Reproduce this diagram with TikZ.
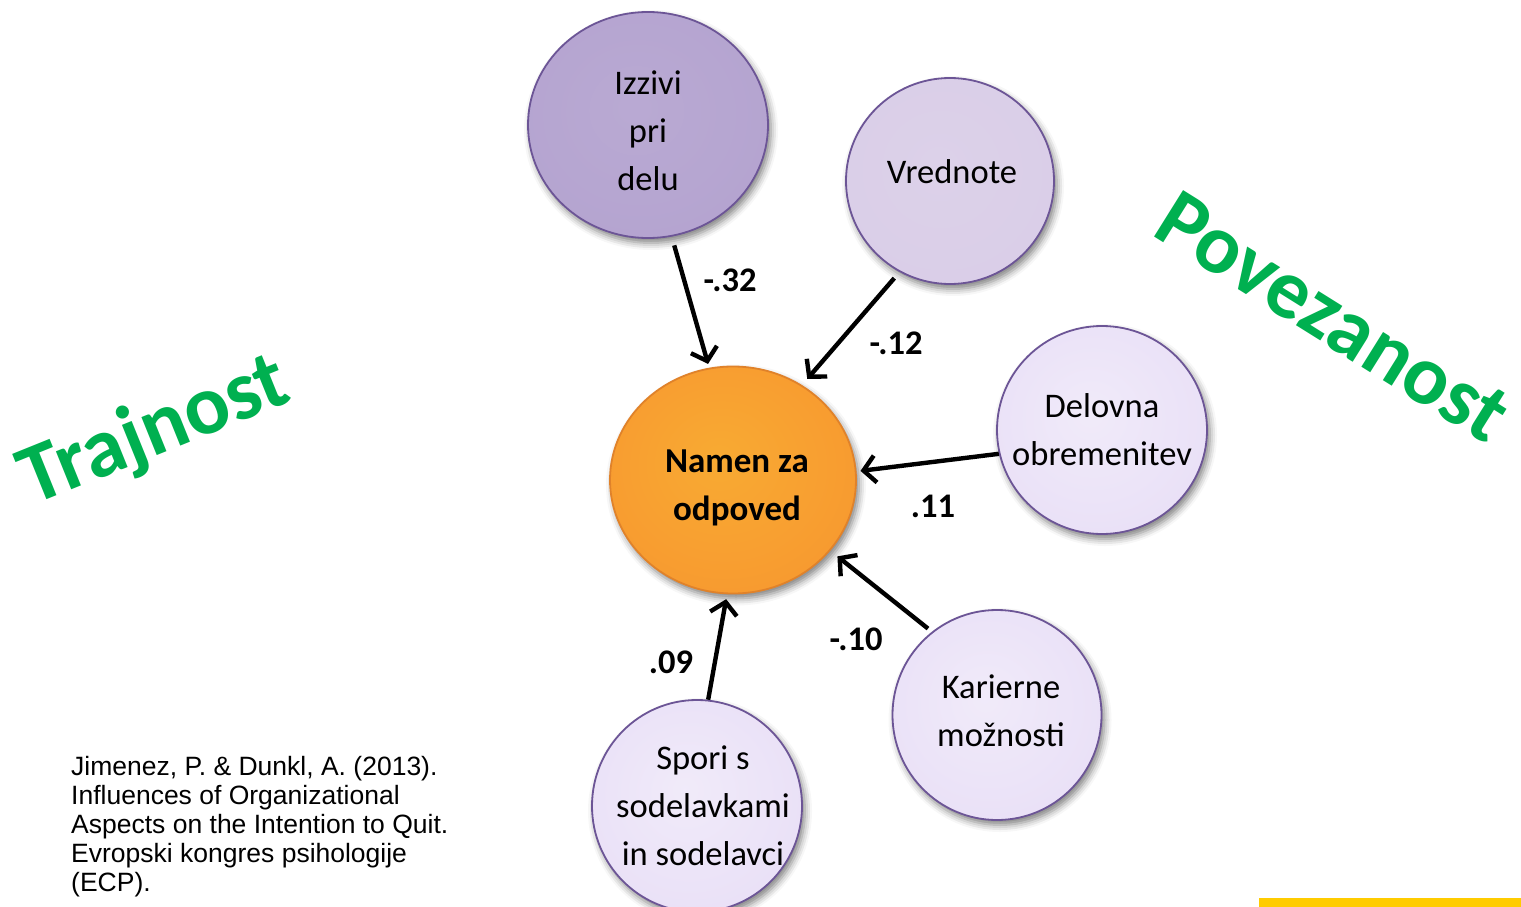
\documentclass[tikz,border=0pt]{standalone}
\usepackage{fontspec}
\setmainfont{Carlito}
\newfontfamily\arialf{Liberation Sans}
\usetikzlibrary{shapes.geometric,arrows.meta,shadows.blur}
\definecolor{izc}{HTML}{B3A2CF}
\definecolor{vrc}{HTML}{D9CDE7}
\definecolor{ltc}{HTML}{E7DDF6}
\definecolor{orc}{HTML}{F7962F}
\definecolor{bubline}{HTML}{6C5596}
\definecolor{orline}{HTML}{E0822A}
\definecolor{grn}{HTML}{00B050}
\definecolor{yel}{HTML}{FFCC00}
\pgfdeclareradialshading{izsh}{\pgfpoint{-3bp}{4bp}}{color(0bp)=(izc!92!white); color(38bp)=(izc); color(47bp)=(izc!88!black); color(52bp)=(izc!72!black)}
\pgfdeclareradialshading{vrsh}{\pgfpoint{-3bp}{4bp}}{color(0bp)=(vrc!92!white); color(38bp)=(vrc); color(47bp)=(vrc!90!black); color(52bp)=(vrc!75!black)}
\pgfdeclareradialshading{ltsh}{\pgfpoint{-3bp}{4bp}}{color(0bp)=(ltc!60!white); color(38bp)=(ltc); color(47bp)=(ltc!92!black); color(52bp)=(ltc!78!black)}
\pgfdeclareradialshading{orsh}{\pgfpoint{-3bp}{5bp}}{color(0bp)=(orc!85!yellow!95!white); color(36bp)=(orc); color(47bp)=(orc!90!black); color(52bp)=(orc!80!black)}
\begin{document}
\begin{tikzpicture}[x=1pt,y=-1pt,
  bub/.style={ellipse, draw=bubline, line width=1.8pt, inner sep=0pt,
    blur shadow={shadow xshift=3pt, shadow yshift=-5pt, shadow blur radius=7pt, shadow opacity=50}},
  btext/.style={align=center, font=\fontsize{34.5}{48}\selectfont, inner sep=0pt},
  wlabel/.style={font=\bfseries\fontsize{34.5}{40}\selectfont, inner sep=0pt},
  arr/.style={line width=4.4pt, -{Straight Barb[length=12pt,width=27pt]}},
  bigword/.style={text=grn, font=\bfseries\fontsize{84.5}{90}\selectfont, inner sep=0pt}
]
\useasboundingbox (0,0) rectangle (1521,907);

% bubbles
\node[bub, shading=izsh, minimum width=240pt, minimum height=226pt] (iz) at (648,125) {};
\node[bub, shading=vrsh, minimum width=208pt, minimum height=206pt] (vr) at (950,181) {};
\node[bub, shading=ltsh, minimum width=210pt, minimum height=208pt] (de) at (1102,430) {};
\node[bub, shading=ltsh, minimum width=209pt, minimum height=210pt] (ka) at (997,715) {};
\node[bub, shading=ltsh, minimum width=210pt, minimum height=212pt] (sp) at (697,806) {};
\node[bub, shading=orsh, draw=orline, minimum width=246pt, minimum height=227pt] (nm) at (733,480) {};

% texts in bubbles
\node[btext, yshift=-6pt] (tiz) at (iz.center) {Izzivi\\pri\\delu};
\node[btext, yshift=9pt, xshift=2pt] (tvr) at (vr.center) {Vrednote};
\node[btext] (tde) at (de.center) {Delovna\\obremenitev};
\node[btext, yshift=4pt, xshift=4pt] (tka) at (ka.center) {Karierne\\možnosti};
\node[btext, xshift=6pt] (tsp) at (sp.center) {Spori s\\sodelavkami\\in sodelavci};
\node[btext, font=\bfseries\fontsize{35}{48}\selectfont, yshift=-8pt, xshift=4pt] (tnm) at (nm.center) {Namen za\\odpoved};

% arrows
\draw[arr, shorten <=9pt, shorten >=4pt] (iz.-78) -- (nm.102);
\draw[arr, shorten <=8pt, shorten >=8pt] (vr.-119) -- (nm.54);
\draw[arr, shorten <=0pt, shorten >=4pt] (de.-167) -- (nm.4.5);
\draw[arr, shorten <=5pt, shorten >=9pt] (ka.128) -- (nm.-36);
\draw[arr, shorten <=0pt, shorten >=5pt] (sp.84) -- (nm.-93);

% coefficient labels
\node[wlabel] (l1) at (730,280) {-.32};
\node[wlabel] (l2) at (896,343) {-.12};
\node[wlabel] (l3) at (933,506) {.11};
\node[wlabel] (l4) at (856,639) {-.10};
\node[wlabel] (l5) at (671,662) {.09};

% big words
\node[bigword, rotate=22] (tr) at (155,432) {Trajnost};
\node[bigword, rotate=-32] (po) at (1333,317) {Povezanost};

% citation
\node[anchor=north west, align=left, inner sep=0pt, font=\arialf\fontsize{26.5}{29}\selectfont] (cit) at (71,756)
  {Jimenez, P. \& Dunkl, A. (2013).\\Influences of Organizational\\Aspects on the Intention to Quit.\\Evropski kongres psihologije\\(ECP).};

% yellow bar
\fill[yel] (1259,898) rectangle (1521,907);
\end{tikzpicture}
\end{document}
